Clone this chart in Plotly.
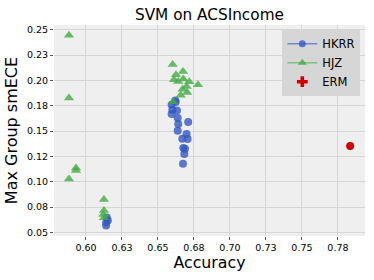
import plotly.graph_objects as go

# HKRR (blue circles)
hkrr_acc = [0.6623, 0.6595, 0.6600, 0.6632, 0.6595, 0.6637, 0.6710, 0.6641, 0.6637, 0.6699,
            0.6669, 0.6706, 0.6676, 0.6688, 0.6683, 0.6674, 0.6620,
            0.6145, 0.6152, 0.6140, 0.6140]
hkrr_ece = [0.1785, 0.1759, 0.1710, 0.1703, 0.1667, 0.1628, 0.1589, 0.1569, 0.1503, 0.1470,
            0.1424, 0.1421, 0.1333, 0.1326, 0.1274, 0.1178, 0.1800,
            0.0647, 0.0617, 0.0597, 0.0568]

# HJZ (green triangles)
hjz_acc = [0.5882, 0.5882, 0.6602, 0.6674, 0.6625, 0.6611, 0.6641, 0.6676, 0.6717, 0.6778,
           0.6699, 0.6671, 0.6703, 0.6658, 0.6606,
           0.5931, 0.5931, 0.5882, 0.6125, 0.6125, 0.6120, 0.6125]
hjz_ece = [0.2445, 0.1825, 0.2156, 0.2087, 0.2054, 0.2005, 0.1988, 0.2012, 0.1985, 0.1956,
           0.1939, 0.1913, 0.1880, 0.1854, 0.1788,
           0.1135, 0.1110, 0.1027, 0.0824, 0.0716, 0.0676, 0.0644]

# ERM
erm_acc = [0.7835]
erm_ece = [0.1352]

x_ticks = [0.600, 0.625, 0.650, 0.675, 0.700, 0.725, 0.750, 0.775]
x_labels = ["0.60", "0.63", "0.65", "0.68", "0.70", "0.73", "0.75", "0.78"]
y_ticks = [0.050, 0.075, 0.100, 0.125, 0.150, 0.175, 0.200, 0.225, 0.250]
y_labels = ["0.05", "0.08", "0.10", "0.12", "0.15", "0.18", "0.20", "0.23", "0.25"]

blue = "#3557c4"
green = "#44ac44"
red = "#d40000"

fig = go.Figure()
fig.add_trace(go.Scatter(x=hkrr_acc, y=hkrr_ece, mode="markers", name="HKRR", showlegend=False,
                         marker=dict(symbol="circle", size=8, color=blue, opacity=0.8)))
fig.add_trace(go.Scatter(x=hjz_acc, y=hjz_ece, mode="markers", name="HJZ", showlegend=False,
                         marker=dict(symbol="triangle-up", size=9, color=green, opacity=0.8)))
fig.add_trace(go.Scatter(x=erm_acc, y=erm_ece, mode="markers", name="ERM", showlegend=False,
                         marker=dict(symbol="circle", size=8, color=red)))

# legend-only entries
fig.add_trace(go.Scatter(x=[None], y=[None], mode="lines+markers", name="HKRR",
                         line=dict(color="#6f86d6", width=1.5),
                         marker=dict(symbol="circle", size=7, color=blue, opacity=0.8)))
fig.add_trace(go.Scatter(x=[None], y=[None], mode="lines+markers", name="HJZ",
                         line=dict(color="#7cc47c", width=1.5),
                         marker=dict(symbol="triangle-up", size=8, color=green, opacity=0.8)))
fig.add_trace(go.Scatter(x=[None], y=[None], mode="markers", name="ERM",
                         marker=dict(symbol="cross", size=9, color=red)))

fig.update_layout(
    width=374, height=280,
    margin=dict(l=54, r=9, t=25, b=44, autoexpand=False),
    paper_bgcolor="white", plot_bgcolor="#efefef",
    font=dict(family="DejaVu Sans", color="black"),
    title=dict(text="SVM on ACSIncome", x=0.56, xanchor="center", y=0.946, yanchor="middle",
               font=dict(size=15.3)),
    xaxis=dict(range=[0.5778, 0.7938], tickvals=x_ticks, ticktext=x_labels, automargin=True,
               showgrid=True, gridcolor="#d6d6d6", gridwidth=1, zeroline=False,
               ticks="outside", ticklen=3, tickcolor="#555", tickfont=dict(size=9.5),
               title=dict(text="Accuracy", font=dict(size=15.8), standoff=2)),
    yaxis=dict(range=[0.0464, 0.2546], tickvals=y_ticks, ticktext=y_labels, automargin=True,
               showgrid=True, gridcolor="#d6d6d6", gridwidth=1, zeroline=False,
               ticks="outside", ticklen=3, tickcolor="#555", tickfont=dict(size=9.5),
               title=dict(text="Max Group smECE", font=dict(size=16), standoff=5)),
    legend=dict(x=0.985, y=0.98, xanchor="right", yanchor="top", bgcolor="#d6d6d6",
                font=dict(size=11.5), itemwidth=30, tracegroupgap=0,
                borderwidth=0),
    showlegend=True,
)

fig.write_html("out.html", config={"displayModeBar": False},
               post_script="document.body.style.margin='0';document.body.style.overflow='hidden';")
